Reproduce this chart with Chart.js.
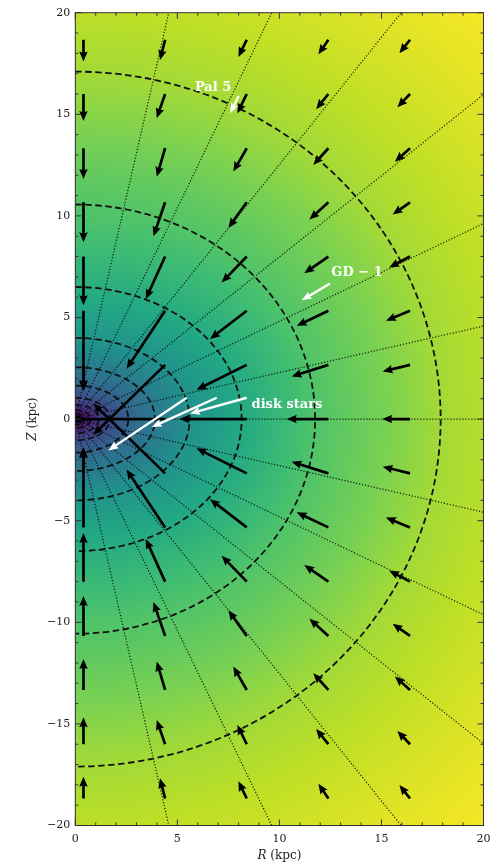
<!DOCTYPE html>
<html>
<head>
<meta charset="utf-8">
<script src="https://cdn.jsdelivr.net/npm/chart.js@4.4.1/dist/chart.umd.min.js"></script>
<style>
  html, body { margin: 0; padding: 0; background: #fff; }
  canvas { display: block; }
</style>
</head>
<body>
<canvas id="campoForca" width="492" height="866"></canvas>
<script>
/* ---------- dados ---------- */
// grade do campo de forças (kpc)
const gradeR = [0.4, 4.4, 8.4, 12.4, 16.4];
const gradeZ = [18.67, 16, 13.33, 10.67, 8, 5.33, 2.67, 0, -2.67, -5.33, -8, -10.67, -13.33, -16, -18.67];

// componentes das setas (uma linha por Z, uma coluna por R)
const forcaR = [
  [0, -0.25, -0.41, -0.49, -0.52],
  [0, -0.41, -0.46, -0.60, -0.62],
  [0, -0.41, -0.66, -0.74, -0.74],
  [0, -0.57, -0.90, -0.93, -0.85],
  [0, -0.95, -1.23, -1.18, -1.02],
  [0, -1.89, -1.80, -1.55, -1.18],
  [0, -3.52, -2.46, -1.80, -1.34],
  [-3.0, -4.60, -3.30, -2.04, -1.36],
  [0, -3.52, -2.46, -1.80, -1.34],
  [0, -1.89, -1.80, -1.55, -1.18],
  [0, -0.95, -1.23, -1.18, -1.02],
  [0, -0.57, -0.90, -0.93, -0.85],
  [0, -0.41, -0.66, -0.74, -0.74],
  [0, -0.41, -0.46, -0.60, -0.62],
  [0, -0.25, -0.41, -0.49, -0.52]
];
const forcaZ = [
  [-1.07, -1.00, -0.85, -0.72, -0.66],
  [-1.33, -1.19, -0.95, -0.75, -0.65],
  [-1.52, -1.40, -1.15, -0.82, -0.66],
  [-1.97, -1.67, -1.26, -0.85, -0.60],
  [-2.40, -2.10, -1.28, -0.82, -0.54],
  [-3.90, -2.85, -1.39, -0.74, -0.49],
  [-1.30, -3.44, -1.23, -0.57, -0.33],
  [0, 0, 0, 0, 0],
  [1.30, 3.44, 1.23, 0.57, 0.33],
  [3.90, 2.85, 1.39, 0.74, 0.49],
  [2.40, 2.10, 1.28, 0.82, 0.54],
  [1.97, 1.67, 1.26, 0.85, 0.60],
  [1.52, 1.40, 1.15, 0.82, 0.66],
  [1.33, 1.19, 0.95, 0.75, 0.65],
  [1.07, 1.00, 0.85, 0.72, 0.66]
];

// contornos do potencial: semi-eixos em R e em Z (kpc)
const contornoR = [0.45, 0.75, 1.15, 1.7, 2.6, 3.9, 5.6, 8.15, 11.75, 17.9];
const contornoZ = [0.28, 0.45, 0.70, 1.05, 1.65, 2.55, 4.0, 6.5, 10.56, 17.1];

// linhas de campo pontilhadas (ângulo a partir do eixo Z, graus)
const linhasAngulo = [12.9, 25.7, 38.6, 51.4, 64.3, 77.1, 90, 102.9, 115.7, 128.6, 141.4, 154.3, 167.1];

// cor do fundo: raio elíptico -> fração do mapa de cores
const fundoRaio  = [0, 0.6, 1.2, 2, 3, 4, 5.6, 8, 11.7, 17.9, 21, 25, 29];
const fundoNivel = [0.0, 0.08, 0.17, 0.26, 0.35, 0.41, 0.5, 0.6, 0.72, 0.86, 0.9, 0.95, 0.99];

// correntes e estrelas do disco (setas brancas)
const correnteNome = ['Pal 5', 'GD − 1', 'disk stars'];
const rotuloR = [6.75, 13.8, 10.37];
const rotuloZ = [16.29, 7.22, 0.72];
const brancaR  = [8.0, 12.48, 5.46, 6.93, 8.40];
const brancaZ  = [15.9, 6.67, 1.05, 1.05, 1.05];
const brancaDR = [-0.41, -1.39, -3.84, -3.18, -2.78];
const brancaDZ = [-0.85, -0.82, -2.59, -1.44, -0.78];

const ticksR = [0, 5, 10, 15, 20];
const ticksZ = [-20, -15, -10, -5, 0, 5, 10, 15, 20];

/* ---------- utilidades ---------- */
const viridis = ['#440154', '#482475', '#414487', '#355f8d', '#2a788e', '#21918c',
                 '#22a884', '#44bf70', '#7ad151', '#bddf26', '#fde725'];
const viridisRGB = viridis.map(h => [1, 3, 5].map(i => parseInt(h.slice(i, i + 2), 16)));

function interp(v, xs, ys) {
  if (v <= xs[0]) return ys[0];
  for (let i = 1; i < xs.length; i++) {
    if (v <= xs[i]) {
      const t = (v - xs[i - 1]) / (xs[i] - xs[i - 1]);
      return ys[i - 1] + t * (ys[i] - ys[i - 1]);
    }
  }
  return ys[ys.length - 1];
}

function corViridis(t) {
  const p = Math.max(0, Math.min(1, t)) * (viridisRGB.length - 1);
  const i = Math.min(Math.floor(p), viridisRGB.length - 2), f = p - i;
  const a = viridisRGB[i], b = viridisRGB[i + 1];
  return [a[0] + f * (b[0] - a[0]), a[1] + f * (b[1] - a[1]), a[2] + f * (b[2] - a[2])];
}

const achatamento = contornoR.map((a, i) => contornoZ[i] / a);

function seta(ctx, x0, y0, x1, y1, larg, cabLarg, cabComp, cabEixo) {
  const dx = x1 - x0, dy = y1 - y0, L = Math.hypot(dx, dy);
  if (L < 0.5) return;
  const k = L < cabComp * 1.3 ? L / (cabComp * 1.3) : 1;
  const ux = dx / L, uy = dy / L, nx = -uy, ny = ux;
  const hc = cabComp * k, he = cabEixo * k, hw = cabLarg * k / 2, sw = larg / 2;
  const pts = [[0, sw], [L - he, sw], [L - hc, hw], [L, 0], [L - hc, -hw], [L - he, -sw], [0, -sw]];
  ctx.beginPath();
  pts.forEach(([s, t], i) => {
    const px = x0 + ux * s + nx * t, py = y0 + uy * s + ny * t;
    i ? ctx.lineTo(px, py) : ctx.moveTo(px, py);
  });
  ctx.closePath();
  ctx.fill();
}

const fonteSerif = '"DejaVu Serif", "Liberation Serif", serif';

/* ---------- plugin de desenho ---------- */
const campoPlugin = {
  id: 'campoPotencial',
  beforeDatasetsDraw(chart) {
    const { ctx, chartArea: a, scales: { x, y } } = chart;
    const x0 = Math.round(a.left), y0 = Math.round(a.top);
    const w = Math.round(a.right) - x0, h = Math.round(a.bottom) - y0;

    // fundo colorido
    const img = ctx.createImageData(w, h);
    for (let j = 0; j < h; j++) {
      const Z = y.getValueForPixel(y0 + j + 0.5);
      for (let i = 0; i < w; i++) {
        const R = x.getValueForPixel(x0 + i + 0.5);
        const q = interp(Math.hypot(R, Z), contornoR, achatamento);
        const rho = Math.sqrt(R * R + (Z / q) * (Z / q));
        const c = corViridis(interp(rho, fundoRaio, fundoNivel));
        const o = (j * w + i) * 4;
        img.data[o] = c[0]; img.data[o + 1] = c[1]; img.data[o + 2] = c[2]; img.data[o + 3] = 255;
      }
    }
    ctx.putImageData(img, x0, y0);

    ctx.save();
    ctx.beginPath();
    ctx.rect(a.left, a.top, a.right - a.left, a.bottom - a.top);
    ctx.clip();
    const cx = x.getPixelForValue(0), cy = y.getPixelForValue(0);

    // linhas de campo pontilhadas
    ctx.strokeStyle = 'rgba(0,0,0,0.85)';
    ctx.lineWidth = 1.2;
    ctx.setLineDash([1.2, 1.8]);
    linhasAngulo.forEach(ang => {
      const t = ang * Math.PI / 180;
      ctx.beginPath();
      ctx.moveTo(cx, cy);
      ctx.lineTo(x.getPixelForValue(40 * Math.sin(t)), y.getPixelForValue(40 * Math.cos(t)));
      ctx.stroke();
    });

    // contornos tracejados
    ctx.strokeStyle = '#111';
    ctx.lineWidth = 1.8;
    ctx.setLineDash([6.5, 3.5]);
    contornoR.forEach((aR, i) => {
      const rx = x.getPixelForValue(aR) - cx;
      const ry = cy - y.getPixelForValue(contornoZ[i]);
      ctx.beginPath();
      ctx.ellipse(cx, cy, rx, ry, 0, -Math.PI / 2, Math.PI / 2);
      ctx.stroke();
    });
    ctx.setLineDash([]);

    // setas pretas do campo de forças
    ctx.fillStyle = '#000';
    gradeZ.forEach((Z, j) => {
      gradeR.forEach((R, i) => {
        seta(ctx, x.getPixelForValue(R), y.getPixelForValue(Z),
             x.getPixelForValue(R + forcaR[j][i]), y.getPixelForValue(Z + forcaZ[j][i]),
             2.7, 8.5, 10, 9);
      });
    });

    // setas brancas
    ctx.fillStyle = '#fff';
    brancaR.forEach((R, i) => {
      seta(ctx, x.getPixelForValue(R), y.getPixelForValue(brancaZ[i]),
           x.getPixelForValue(R + brancaDR[i]), y.getPixelForValue(brancaZ[i] + brancaDZ[i]),
           2.4, 8, 10, 9);
    });

    // rótulos brancos
    ctx.font = 'bold 13px ' + fonteSerif;
    ctx.textAlign = 'center';
    ctx.textBaseline = 'middle';
    correnteNome.forEach((txt, i) => {
      ctx.fillText(txt, x.getPixelForValue(rotuloR[i]), y.getPixelForValue(rotuloZ[i]));
    });
    ctx.restore();
  },
  afterDraw(chart) {
    const { ctx, chartArea: a, scales: { x, y } } = chart;
    ctx.save();
    // moldura
    ctx.strokeStyle = '#333';
    ctx.lineWidth = 1;
    ctx.strokeRect(a.left, a.top, a.right - a.left, a.bottom - a.top);
    // marcas internas
    ctx.beginPath();
    for (let v = 0; v <= 20; v++) {
      const px = x.getPixelForValue(v), len = v % 5 === 0 ? 6 : 3;
      ctx.moveTo(px, a.bottom); ctx.lineTo(px, a.bottom - len);
      ctx.moveTo(px, a.top); ctx.lineTo(px, a.top + len);
    }
    for (let v = -20; v <= 20; v++) {
      const py = y.getPixelForValue(v), len = v % 5 === 0 ? 6 : 3;
      ctx.moveTo(a.left, py); ctx.lineTo(a.left + len, py);
      ctx.moveTo(a.right, py); ctx.lineTo(a.right - len, py);
    }
    ctx.stroke();

    // títulos dos eixos (letra em itálico)
    const larguras = (letra, resto) => {
      ctx.font = 'italic 12px ' + fonteSerif;
      const w1 = ctx.measureText(letra).width;
      ctx.font = '12px ' + fonteSerif;
      return [w1, ctx.measureText(resto).width];
    };
    ctx.fillStyle = '#222';
    ctx.textBaseline = 'middle';
    ctx.textAlign = 'left';
    let [w1, w2] = larguras('R', ' (kpc)');
    let xc = (a.left + a.right) / 2 - (w1 + w2) / 2;
    ctx.font = 'italic 12px ' + fonteSerif;
    ctx.fillText('R', xc, 856);
    ctx.font = '12px ' + fonteSerif;
    ctx.fillText(' (kpc)', xc + w1, 856);

    [w1, w2] = larguras('Z', ' (kpc)');
    ctx.translate(33, (a.top + a.bottom) / 2);
    ctx.rotate(-Math.PI / 2);
    xc = -(w1 + w2) / 2;
    ctx.font = 'italic 12px ' + fonteSerif;
    ctx.fillText('Z', xc, 0);
    ctx.font = '12px ' + fonteSerif;
    ctx.fillText(' (kpc)', xc + w1, 0);
    ctx.restore();
  }
};

const rotuloTick = v => (v < 0 ? '−' + Math.abs(v) : String(v));

new Chart(document.getElementById('campoForca'), {
  type: 'scatter',
  data: {
    datasets: [{
      data: gradeZ.flatMap(Z => gradeR.map(R => ({ x: R, y: Z }))),
      pointRadius: 0
    }]
  },
  options: {
    responsive: false,
    animation: false,
    devicePixelRatio: 1,
    layout: { padding: { top: 12.7, right: 8.5, left: 0, bottom: 0 } },
    plugins: { legend: { display: false }, tooltip: { enabled: false } },
    scales: {
      x: {
        min: 0, max: 20,
        afterBuildTicks: s => { s.ticks = ticksR.map(v => ({ value: v })); },
        afterFit: s => { s.height = 40.5; s.paddingLeft = 0; s.paddingRight = 0; },
        grid: { display: false, drawTicks: false },
        border: { display: false },
        ticks: { padding: 7, color: '#222', font: { family: fonteSerif, size: 11 }, callback: rotuloTick, maxRotation: 0 }
      },
      y: {
        min: -20, max: 20,
        afterBuildTicks: s => { s.ticks = ticksZ.map(v => ({ value: v })); },
        afterFit: s => { s.width = 75.3; s.paddingTop = 0; s.paddingBottom = 0; },
        grid: { display: false, drawTicks: false },
        border: { display: false },
        ticks: { padding: 5, color: '#222', font: { family: fonteSerif, size: 11 }, callback: rotuloTick }
      }
    }
  },
  plugins: [campoPlugin]
});
</script>
</body>
</html>
